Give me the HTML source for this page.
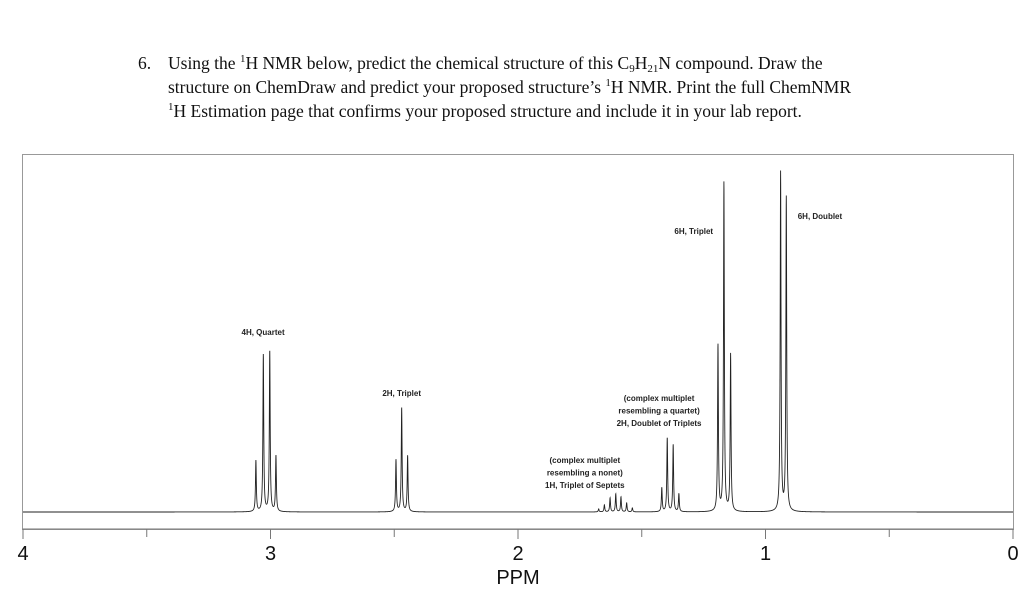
<!DOCTYPE html>
<html><head><meta charset="utf-8"><style>
body{margin:0;width:1024px;height:610px;background:#fff;overflow:hidden;font-family:"Liberation Sans",sans-serif}
.q{position:absolute;left:138px;top:51px;font-family:"Liberation Serif",serif;font-size:17.5px;line-height:24px;color:#111}
.q .n{position:absolute;left:0;top:0}
.q .t{position:absolute;left:30px;top:0;white-space:nowrap}
sup,sub{font-size:11px;line-height:0;position:relative;vertical-align:baseline}
sup{top:-7px}
sub{top:3px}
</style></head><body>
<div class="q"><span class="n">6.</span><div class="t">Using the <sup>1</sup>H NMR below, predict the chemical structure of this C<sub>9</sub>H<sub>21</sub>N compound. Draw the<br>structure on ChemDraw and predict your proposed structure’s <sup>1</sup>H NMR. Print the full ChemNMR<br><sup>1</sup>H Estimation page that confirms your proposed structure and include it in your lab report.</div></div>
<svg id="c" width="1024" height="610" style="position:absolute;left:0;top:0"></svg>
<script>
const peakPpm=[3.059,3.029,3.003,2.978, 2.493,2.470,2.446, 1.674,1.651,1.628,1.605,1.584,1.561,1.538, 1.419,1.397,1.373,1.350, 1.192,1.168,1.141, 0.939,0.916];
const peakHeight=[51,157,161,56, 52,104,56, 3,7,14,18,15,9,4, 24,74,67,18, 166,329,157, 339,314];
const tickValues=[4,3.5,3,2.5,2,1.5,1,0.5,0];
const tickLabels=["4","3","2","1","0"];
const labelTexts=[["4H, Quartet"],["2H, Triplet"],["(complex multiplet","resembling a nonet)","1H, Triplet of Septets"],["(complex multiplet","resembling a quartet)","2H, Doublet of Triplets"],["6H, Triplet"],["6H, Doublet"]];
const labelPpm=[3.03,2.47,1.73,1.43,1.29,0.78];
const labelTop=[332,393,460,398,231,216];
const NS="http://www.w3.org/2000/svg";
const svg=document.getElementById('c');
const X0=23,X1=1013,BASE=512,AXY=529;
function x(p){return X0+(4-p)*(X1-X0)/4;}
function y(v){return BASE-v;}
function mk(t,a){const e=document.createElementNS(NS,t);for(const k in a)e.setAttribute(k,a[k]);svg.appendChild(e);return e;}
const frame=mk('rect',{x:22.5,y:154.5,width:991,height:375,fill:'none',stroke:'#999','stroke-width':1});


const ax=mk('line',{x1:22.5,x2:1013.5,y1:AXY,y2:AXY,stroke:'#777','stroke-width':1});


tickValues.forEach(v=>{
  const major=Number.isInteger(v);
  const t=mk('line',{x1:x(v),x2:x(v),y1:AXY,y2:AXY+(major?10:8),stroke:'#777','stroke-width':1});
  
  
});
tickLabels.forEach(s=>{
  const v=parseFloat(s);
  const t=mk('text',{x:x(v),y:560,'text-anchor':'middle','font-size':20,fill:'#111'});
  t.textContent=s;
  
  
});
const at=mk('text',{x:x(2),y:584,'text-anchor':'middle','font-size':20,fill:'#111'});
at.textContent='PPM';


const g=0.5;
let d='';
for(let px=X0;px<=X1+0.01;px+=0.1){
  let s=0;
  for(let i=0;i<peakPpm.length;i++){const dx=px-x(peakPpm[i]);s+=peakHeight[i]*g*g/(dx*dx+g*g);}
  d+=(d===''?'M':'L')+px.toFixed(2)+','+y(s).toFixed(2);
}
const sp=mk('path',{d:d,fill:'none',stroke:'#222','stroke-width':0.9});


labelTexts.forEach((lines,i)=>{
  lines.forEach((l,j)=>{
    const t=mk('text',{x:x(labelPpm[i]),y:labelTop[i]+3+j*12.5,'text-anchor':'middle','font-size':8,'font-weight':'bold',fill:'#222'});
    t.textContent=l;
    
    
  });
});
</script>
</body></html>
